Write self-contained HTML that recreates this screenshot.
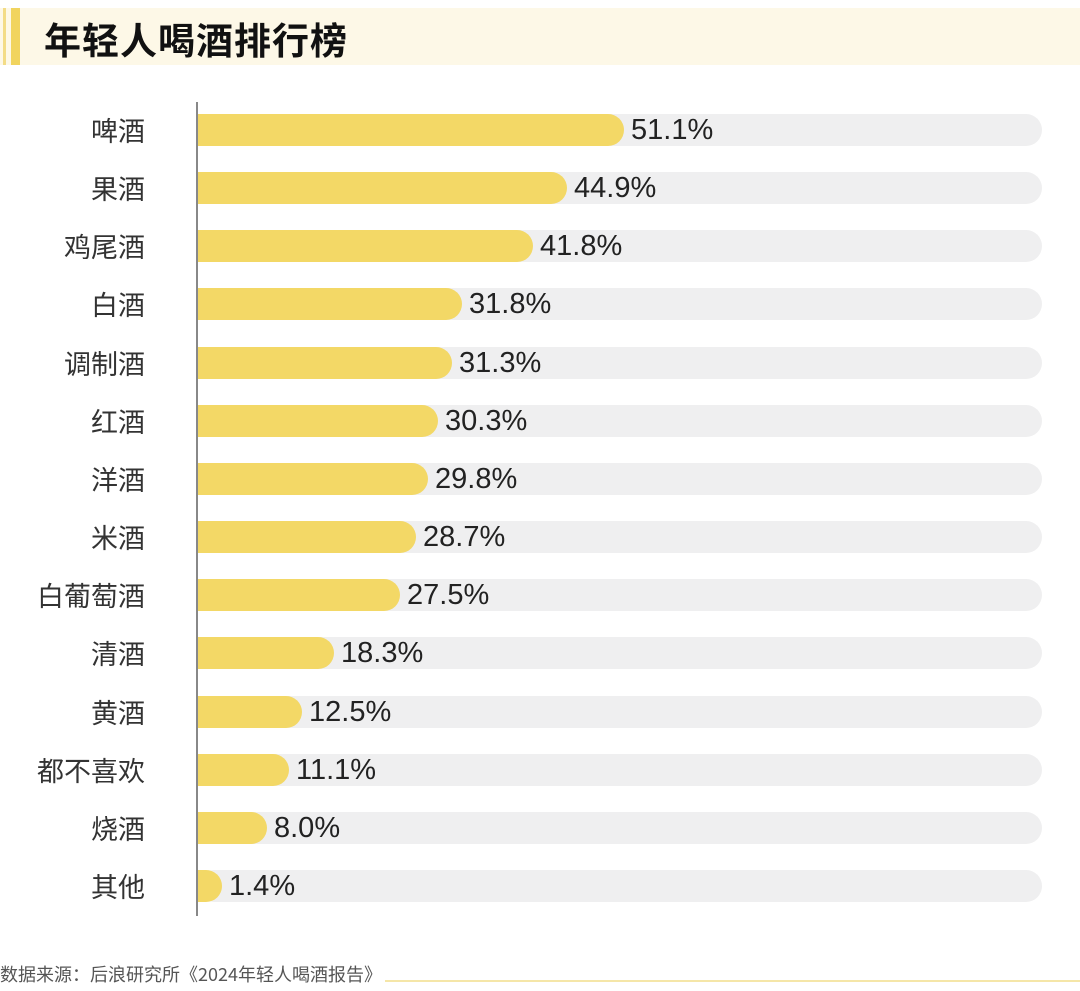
<!DOCTYPE html>
<html><head><meta charset="utf-8"><style>
body{margin:0;width:1080px;height:991px;background:#fff;position:relative;overflow:hidden;font-family:"Liberation Sans","Noto Sans CJK SC",sans-serif}
.hdr{position:absolute;left:0;top:8px;width:1080px;height:57px;background:#fdf8e7}
.b1{position:absolute;left:3px;top:8px;width:3px;height:57px;background:#f3dc86}
.b2{position:absolute;left:11px;top:8px;width:9px;height:57px;background:#f1d45e}
.title{position:absolute;left:44px;top:11px;font-size:37px;font-weight:bold;color:#111;letter-spacing:1px;font-family:"Noto Sans CJK SC",sans-serif}
.axis{position:absolute;left:196px;top:102px;width:2px;height:814px;background:#888}
.row{position:absolute;left:0;width:1080px;height:32px}
.lab{position:absolute;right:935px;top:-3px;font-size:27px;color:#333;white-space:nowrap;font-family:"Noto Sans CJK SC",sans-serif;line-height:38px}
.trk{position:absolute;left:198px;top:0;width:844px;height:32px;background:#efeff0;border-radius:16px}
.bar{position:absolute;left:198px;top:0;height:32px;background:#f3d866;border-radius:0 16px 16px 0}
.val{position:absolute;top:-2px;font-size:29px;color:#222;line-height:36px}
.foot{position:absolute;left:0;top:961px;font-size:18px;color:#555;font-family:"Noto Sans CJK SC",sans-serif}
.fl{position:absolute;left:385px;top:980px;width:695px;height:2px;background:#f5e6a8}
</style></head><body>
<div class="hdr"></div><div class="b1"></div><div class="b2"></div>
<div class="title">年轻人喝酒排行榜</div>
<div class="axis"></div>
<div id="rows"></div>
<div class="foot">数据来源：后浪研究所《2024年轻人喝酒报告》</div>
<div class="fl"></div>
<script>
var d=[["啤酒",51.1,427],["果酒",44.9,370],["鸡尾酒",41.8,336],["白酒",31.8,265],["调制酒",31.3,255],["红酒",30.3,241],["洋酒",29.8,231],["米酒",28.7,219],["白葡萄酒",27.5,203],["清酒",18.3,137],["黄酒",12.5,105],["都不喜欢",11.1,92],["烧酒",8.0,70],["其他",1.4,25]];
var h="";
d.forEach(function(r,i){var y=114+i*58.15;var w=r[2]-1;
h+='<div class="row" style="top:'+y+'px"><div class="lab">'+r[0]+'</div><div class="trk"></div><div class="bar" style="width:'+w+'px"></div><div class="val" style="left:'+(198+w+7)+'px">'+r[1].toFixed(1)+'%</div></div>';});
document.getElementById("rows").innerHTML=h;
</script>
</body></html>
